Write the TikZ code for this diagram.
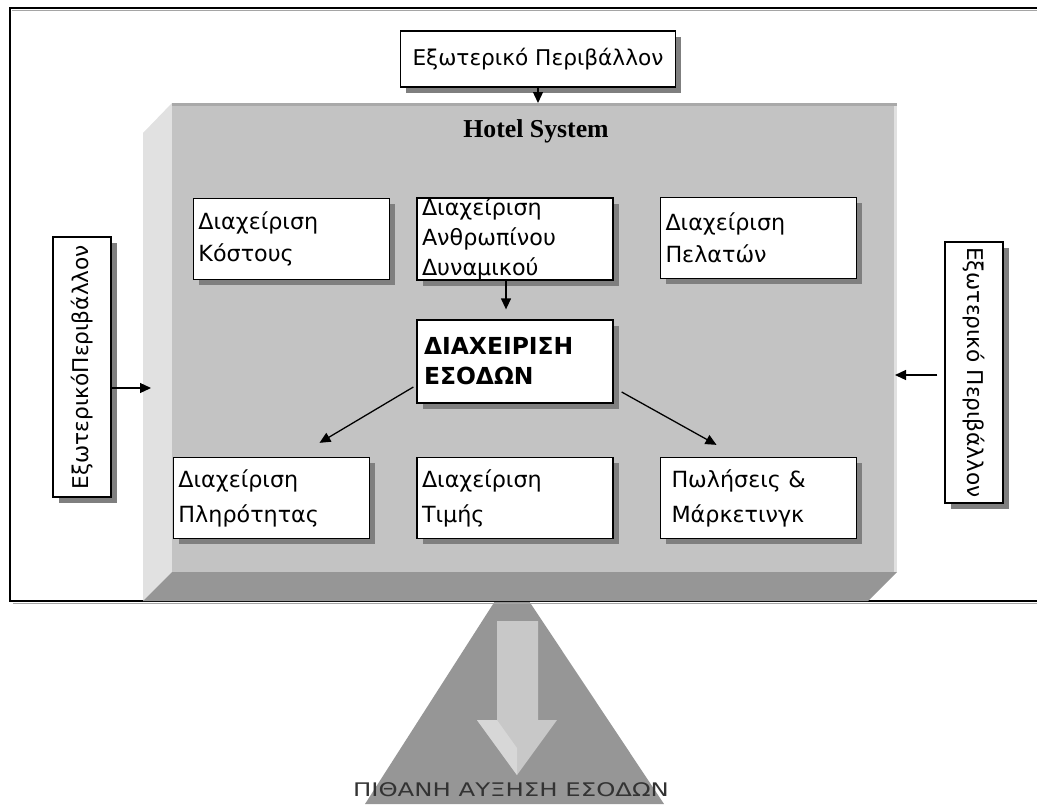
\documentclass[tikz,border=0pt]{standalone}
\usepackage{fontspec}
\setmainfont{DejaVu Sans}
\newfontfamily\hotelfont{Liberation Serif}
\usepackage{xcolor}
\usetikzlibrary{arrows.meta,positioning,calc,shadows}

\definecolor{facegray}{HTML}{C3C3C3}
\definecolor{sidegray}{HTML}{E1E1E1}
\definecolor{botgray}{HTML}{969696}
\definecolor{topgray}{HTML}{A9A9A9}
\definecolor{shadegray}{HTML}{7F7F7F}
\definecolor{arrowgray}{HTML}{C8C8C8}

\begin{document}
\begin{tikzpicture}[x=0.03cm, y=-0.03cm,
    box/.style={draw, line width=1.1pt, fill=white, align=left, inner xsep=0.15cm, inner ysep=0pt,
        text width=5.58cm, minimum height=2.43cm, font=\fontsize{19}{27}\selectfont,
        drop shadow={shadow xshift=0.17cm, shadow yshift=-0.17cm, fill=shadegray, opacity=1}},
    extbox/.style={draw, line width=1.1pt, fill=white, inner sep=0pt, font=\fontsize{18.5}{22}\selectfont,
        drop shadow={shadow xshift=0.17cm, shadow yshift=-0.17cm, fill=shadegray, opacity=1}},
    arr/.style={line width=1.1pt, -{Triangle[length=0.33cm, width=0.3cm]}}]
    \useasboundingbox (0,0) rectangle (1037,804);

    % Output cone and frame
    \fill[botgray] (495,601) -- (529,601) -- (664,804) -- (365,804) -- cycle;
    \draw[shadegray!70, line width=1.3pt] (13,603.5) -- (1040,603.5);
    \draw[shadegray!70, line width=1.3pt] (12,10.5) -- (1040,10.5);
    \draw[line width=1.4pt] (1040,8) -- (10,8) -- (10,601) -- (1040,601);

    % Hotel system block
    \fill[sidegray] (143,133) -- (172,103) -- (172,572) -- (143,601) -- cycle;
    \fill[botgray] (172,572) -- (897,572) -- (868,601) -- (143,601) -- cycle;
    \fill[facegray] (172,103) rectangle (897,572);
    \fill[topgray] (172,103) rectangle (897,106);
    \fill[sidegray] (894,106) rectangle (897,572);
    \node[font=\hotelfont\bfseries\fontsize{22}{26}\selectfont] (title) at (536,131) {Hotel System};

    % Down arrow
    \fill[arrowgray] (497,621) -- (538,621) -- (538,720) -- (557,720) -- (517,775) -- (477,720) -- (497,720) -- cycle;
    \fill[sidegray!60!arrowgray] (477,720) -- (497,720) -- (517,748) -- (517,775) -- cycle;
    \node[font=\fontsize{16}{18}\selectfont, text=black!80] (gain) at (511,790) {\scalebox{1.3}[1]{ΠΙΘΑΝΗ ΑΥΞΗΣΗ ΕΣΟΔΩΝ}};

    % Environment
    \node[extbox, minimum width=8.25cm, minimum height=1.68cm] (extop) at (538,59) {Εξωτερικό Περιβάλλον};
    \node[extbox, minimum width=1.74cm, minimum height=7.8cm] (extleft) at (82,367) {\rotatebox{90}{ΕξωτερικόΠεριβάλλον}};
    \node[extbox, minimum width=1.74cm, minimum height=7.83cm] (extright) at (974,372.5) {\rotatebox{-90}{Εξωτερικό Περιβάλλον}};

    % Departments
    \node[box] (kostos) at (291.5,239) {Διαχείριση\\Κόστους};
    \node[box, font=\fontsize{19}{25.5}\selectfont] (anthr) at (515,239) {Διαχείριση\\Ανθρωπίνου\\Δυναμικού};
    \node[box] (pelates) at (758.5,238) {Διαχείριση\\Πελατών};
    \node[box, minimum height=2.49cm, inner xsep=0.21cm, text width=5.46cm,
        font=\bfseries\fontsize{20}{25.5}\selectfont] (esoda) at (515,361.5) {ΔΙΑΧΕΙΡΙΣΗ\\ΕΣΟΔΩΝ};
    \node[box, font=\fontsize{19}{30}\selectfont] (plirotita) at (271.5,498) {Διαχείριση\\Πληρότητας};
    \node[box, font=\fontsize{19}{30}\selectfont] (timi) at (515,498) {Διαχείριση\\Τιμής};
    \node[box, font=\fontsize{19}{30}\selectfont, inner xsep=0.33cm, text width=5.22cm] (marketing) at (758.5,498) {Πωλήσεις \&\\Μάρκετινγκ};

    % Arrows
    \coordinate (facetop) at (0,103);
    \coordinate (leftin) at (151,388);
    \coordinate (rightin) at (895,375);
    \draw[arr] (extop.south) -- (extop.south |- facetop);
    \draw[arr] (extleft.east |- leftin) -- (leftin);
    \draw[arr] ($(extright.west |- rightin)+(-7,0)$) -- (rightin);
    \draw[arr, shorten >=0.3cm] ([xshift=-0.27cm]anthr.south) -- ([xshift=-0.27cm]esoda.north);
    \draw[arr] ($(esoda.west)+(-3,25.5)$) -- ($(plirotita.north)+(48,-14)$);
    \draw[arr] ($(esoda.east)+(8,30.5)$) -- ($(marketing.north)+(-42,-12)$);
\end{tikzpicture}
\end{document}
